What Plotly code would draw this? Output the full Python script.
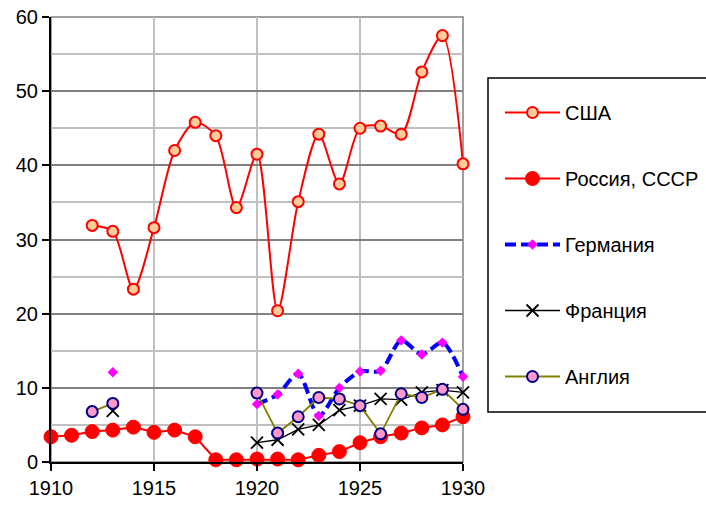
import plotly.graph_objects as go

years = list(range(1910, 1931))
usa = [None, None, 31.9, 31.1, 23.3, 31.6, 42.0, 45.8, 44.0, 34.3, 41.5,
       20.4, 35.1, 44.2, 37.5, 45.0, 45.3, 44.2, 52.6, 57.5, 40.2]
russia = [3.4, 3.6, 4.1, 4.3, 4.7, 4.0, 4.3, 3.4, 0.3, 0.3, 0.4,
          0.4, 0.3, 0.9, 1.4, 2.6, 3.4, 3.9, 4.6, 5.0, 6.1]
germany = [None, None, None, 12.1, None, None, None, None, None, None, 7.8,
           9.1, 11.9, 6.2, 10.0, 12.2, 12.3, 16.4, 14.5, 16.1, 11.5]
france = [None, None, None, 6.9, None, None, None, None, None, None, 2.6,
          3.0, 4.4, 5.0, 7.0, 7.6, 8.5, 8.4, 9.4, 9.7, 9.4]
england = [None, None, 6.8, 7.9, None, None, None, None, None, None, 9.3,
           3.9, 6.1, 8.7, 8.5, 7.6, 3.8, 9.2, 8.7, 9.8, 7.1]

names = ["США", "Россия, СССР", "Германия", "Франция", "Англия"]
x_ticks = [1910, 1915, 1920, 1925, 1930]
y_ticks = [0, 10, 20, 30, 40, 50, 60]

FONT = "Liberation Sans, Arial, sans-serif"

W, H = 706, 506
ML, MR, MT, MB = 51, 706 - 463, 17, 506 - 462
PW, PH = W - ML - MR, H - MT - MB


def px_to_paper_x(px):
    return (px - ML) / PW


def px_to_paper_y(py):
    return (H - MB - py) / PH


fig = go.Figure()

fig.add_trace(go.Scatter(
    x=years, y=usa, name=names[0], mode="lines+markers", legendgroup="a",
    line=dict(color="#FF0000", width=2, shape="spline", smoothing=0.8),
    marker=dict(symbol="circle", size=11, color="#FFCC99",
                line=dict(color="#FF0000", width=2)),
    cliponaxis=False))
fig.add_trace(go.Scatter(
    x=years, y=russia, name=names[1], mode="lines+markers", legendgroup="b",
    line=dict(color="#FF0000", width=2),
    marker=dict(symbol="circle", size=14, color="#FF0000",
                line=dict(color="#FF0000", width=1)),
    cliponaxis=False))
fig.add_trace(go.Scatter(
    x=years, y=germany, name=names[2], mode="lines+markers", legendgroup="c",
    line=dict(color="#0000FF", width=4, dash="11px,5px", shape="spline", smoothing=0.8),
    marker=dict(symbol="diamond", size=8, color="#FF00FF",
                line=dict(color="#FF00FF", width=0)),
    cliponaxis=False))
fig.add_trace(go.Scatter(
    x=years, y=france, name=names[3], mode="lines+markers", legendgroup="d",
    line=dict(color="#000000", width=1.3),
    marker=dict(symbol="x-thin", size=12, color="#000000",
                line=dict(color="#000000", width=1.8)),
    cliponaxis=False))
fig.add_trace(go.Scatter(
    x=years, y=england, name=names[4], mode="lines+markers", legendgroup="e",
    line=dict(color="#808000", width=1.8),
    marker=dict(symbol="circle", size=11, color="#FF99CC",
                line=dict(color="#000080", width=2)),
    cliponaxis=False))

fig.update_layout(
    width=W, height=H,
    margin=dict(l=ML, r=MR, t=MT, b=MB, autoexpand=False),
    paper_bgcolor="white", plot_bgcolor="white",
    font=dict(family=FONT, size=20, color="#000000"),
    showlegend=True,
    legend=dict(
        xref="container", yref="container",
        x=500 / W, y=1 - 93 / H,
        xanchor="left", yanchor="top",
        borderwidth=0, bgcolor="rgba(0,0,0,0)",
        font=dict(family=FONT, size=20, color="#000000"),
        tracegroupgap=37, itemwidth=55, maxheight=1,
    ),
    xaxis=dict(
        range=[1910, 1930], tickvals=x_ticks, ticktext=[str(v) for v in x_ticks],
        showgrid=True, gridcolor="#C0C0C0", gridwidth=1.5,
        showline=True, linecolor="#000000", linewidth=2,
        ticks="outside", ticklen=7, tickwidth=2, tickcolor="#000000",
        zeroline=False, automargin=False, ticklabeloverflow="allow",
    ),
    yaxis=dict(
        range=[0, 60], tickvals=y_ticks, ticktext=[str(v) for v in y_ticks],
        showgrid=True, gridcolor="#808080", gridwidth=1.5,
        minor=dict(dtick=5, tick0=0, showgrid=True, gridcolor="#C0C0C0", gridwidth=1.5),
        showline=True, linecolor="#000000", linewidth=2,
        ticks="outside", ticklen=7, tickwidth=2, tickcolor="#000000",
        zeroline=False, automargin=False, ticklabeloverflow="allow",
    ),
    shapes=[
        dict(type="rect", xref="paper", yref="paper", x0=0, x1=1, y0=0, y1=1,
             line=dict(color="#808080", width=1.5), layer="below"),
        dict(type="rect", xref="paper", yref="paper",
             x0=px_to_paper_x(488), x1=px_to_paper_x(730),
             y0=px_to_paper_y(412), y1=px_to_paper_y(78),
             line=dict(color="#000000", width=1.5), fillcolor="white", layer="below"),
    ],
)

fig.write_html(
    "out.html",
    config={"displayModeBar": False},
    post_script="document.body.style.margin='0';document.body.style.overflow='hidden';",
)
